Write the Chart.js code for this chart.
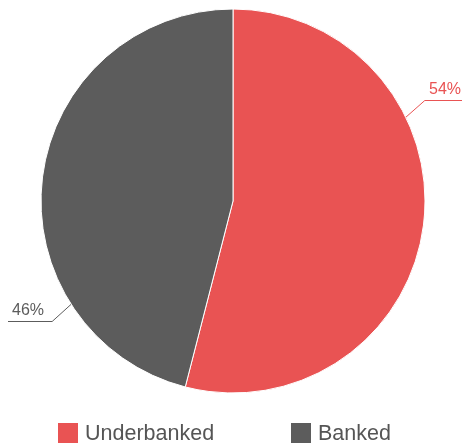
<!DOCTYPE html>
<html>
<head>
<meta charset="utf-8">
<script src="https://cdn.jsdelivr.net/npm/chart.js@4.4.1/dist/chart.umd.min.js"></script>
<style>
  html, body { margin: 0; padding: 0; background: #fff; }
  #wrap { position: relative; width: 462px; height: 446px; }
  #legend { position: absolute; left: 0; top: 421px; width: 462px; height: 24px;
            font-family: "Helvetica Neue", Arial, "Liberation Sans", sans-serif;
            font-size: 21.5px; color: #555; }
  .item { position: absolute; top: 0; white-space: nowrap; line-height: 24px; }
  .swatch { display: inline-block; width: 20px; height: 20px; vertical-align: top;
            margin-top: 2px; margin-right: 7px; }
</style>
</head>
<body>
<div id="wrap">
  <canvas id="pieChart"></canvas>
  <div id="legend"></div>
</div>
<script>
const labels = ['Underbanked', 'Banked'];
const shares = [54, 46];
const colors = ['#E95353', '#5C5C5C'];
// where along each slice the leader line leaves the edge (fraction of the arc)
const labelAnchor = [0.33, 0.26];
const legendLeft = [58, 291];

const leaderLabels = {
    id: 'leaderLabels',
    afterDatasetsDraw(chart) {
        const ctx = chart.ctx;
        const meta = chart.getDatasetMeta(0);
        ctx.save();
        ctx.font = '16px "Helvetica Neue", Arial, "Liberation Sans", sans-serif';
        ctx.lineWidth = 1;
        meta.data.forEach((arc, i) => {
            const a = arc.startAngle + (arc.endAngle - arc.startAngle) * labelAnchor[i];
            const r = arc.outerRadius;
            const x0 = arc.x + Math.cos(a) * r;
            const y0 = arc.y + Math.sin(a) * r;
            const sx = Math.cos(a) > 0 ? 1 : -1;
            const sy = Math.sin(a) > 0 ? 1 : -1;
            const x1 = x0 + sx * 19;
            const y1 = Math.round(y0 + sy * 17) + 0.5;
            const right = sx > 0;
            const x2 = right ? chart.width : 8;
            ctx.strokeStyle = colors[i];
            ctx.fillStyle = colors[i];
            ctx.beginPath();
            ctx.moveTo(x0, y0);
            ctx.lineTo(x1, y1);
            ctx.lineTo(x2, y1);
            ctx.stroke();
            ctx.textBaseline = 'alphabetic';
            ctx.textAlign = right ? 'right' : 'left';
            ctx.fillText(shares[i] + '%', right ? chart.width - 1 : 12, y1 - 7);
        });
        ctx.restore();
    }
};

const chart = new Chart(document.getElementById('pieChart'), {
    type: 'pie',
    data: {
        labels: labels,
        datasets: [{
            data: shares,
            backgroundColor: colors,
            borderColor: '#ffffff',
            borderWidth: 1,
            radius: 192
        }]
    },
    options: {
        responsive: true,
        maintainAspectRatio: false,
        animation: false,
        layout: { padding: { left: 4, right: 0, top: 0, bottom: 44 } },
        plugins: {
            legend: { display: false },
            tooltip: { enabled: false }
        }
    },
    plugins: [leaderLabels]
});

// html legend built from the same arrays
const legendEl = document.getElementById('legend');
labels.forEach((name, i) => {
    const item = document.createElement('div');
    item.className = 'item';
    item.style.left = legendLeft[i] + 'px';
    const sw = document.createElement('span');
    sw.className = 'swatch';
    sw.style.background = colors[i];
    item.appendChild(sw);
    item.appendChild(document.createTextNode(name));
    legendEl.appendChild(item);
});
</script>
</body>
</html>
